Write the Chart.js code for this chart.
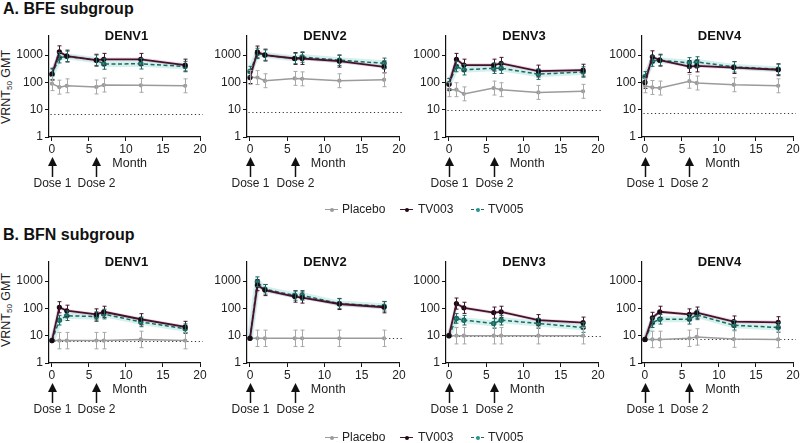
<!DOCTYPE html>
<html>
<head>
<meta charset="utf-8">
<script src="https://cdn.jsdelivr.net/npm/chart.js@4.4.0/dist/chart.umd.min.js"></script>
<style>
	body { margin: 0; width: 800px; height: 443px; overflow: hidden; background: #fff; position: relative;
		font-family: Arial, "Liberation Sans", sans-serif; color: #222; }
	canvas.panel { position: absolute; }
	.heading { position: absolute; left: 3px; font-weight: bold; font-size: 16px; line-height: 18px; color: #111; }
	.ylab { position: absolute; width: 80px; text-align: center; font-size: 12.5px; line-height: 14px;
		transform: translate(-50%, -50%) rotate(-90deg); white-space: nowrap; }
	.ylab sub { font-size: 8px; vertical-align: -2px; }
	.leg { position: absolute; font-size: 12px; line-height: 14px; white-space: nowrap; }
	.sym { position: absolute; height: 0; }
	.sym i { position: absolute; top: -2.5px; width: 4px; height: 4px; border-radius: 50%; }
</style>
</head>
<body>
<div class="heading" style="top:0px">A. BFE subgroup</div>
<div class="heading" style="top:226px">B. BFN subgroup</div>
<div class="ylab" style="left:8px;top:87px">VRNT<sub>50</sub> GMT</div>
<div class="ylab" style="left:8px;top:310px">VRNT<sub>50</sub> GMT</div>

<script>
	'use strict';

	var months = [0, 1, 2, 6, 7, 12, 18];
	var serotypes = ['DENV1', 'DENV2', 'DENV3', 'DENV4'];
	var yTicks = [1, 10, 100, 1000];
	var xTicks = [0, 5, 10, 15, 20];
	var seriesNames = ['Placebo', 'TV003', 'TV005'];

	// A. BFE subgroup, one row per serotype
	var bfePlacebo = [
		[90, 67, 75, 68, 80, 78, 75],
		[150, 150, 115, 140, 135, 115, 125],
		[54, 54, 38, 62, 54, 43, 47],
		[75, 65, 62, 110, 95, 82, 75]
	];
	var bfeTV003 = [
		[200, 1320, 920, 650, 700, 700, 430],
		[150, 1300, 1000, 750, 750, 600, 370],
		[85, 700, 430, 430, 500, 260, 280],
		[100, 870, 650, 380, 400, 350, 290]
	];
	var bfeTV005 = [
		[200, 800, 900, 650, 470, 480, 380],
		[250, 1150, 1000, 750, 850, 650, 500],
		[90, 380, 290, 330, 330, 200, 240],
		[160, 600, 650, 520, 560, 370, 300]
	];
	var bfeLod = [7, 8, 10, 7.5];
	var bfeErr = [1.8, 1.65, 1.55]; // placebo, TV003, TV005 (fold)

	// B. BFN subgroup
	var bfnPlacebo = [
		[6.6, 6.6, 6.6, 6.6, 6.6, 7.3, 6.6],
		[8, 8, 8, 8, 8, 8, 8],
		[10, 10, 10, 10, 10, 10, 10],
		[7.3, 7.3, 7.3, 8, 9, 7.5, 7.3]
	];
	var bfnTV003 = [
		[6.6, 110, 82, 60, 75, 40, 21],
		[8, 710, 470, 270, 250, 145, 110],
		[10, 150, 105, 70, 75, 37, 30],
		[7.3, 45, 75, 60, 70, 33, 31]
	];
	var bfnTV005 = [
		[6.6, 37, 54, 50, 62, 32, 18],
		[8, 950, 500, 300, 300, 150, 120],
		[10, 43, 37, 28, 37, 28, 20],
		[7.3, 30, 40, 40, 58, 24, 20]
	];
	var bfnLod = [6.6, 8, 10, 7.3];
	var bfnErr = [2.0, 1.6, 1.5];

	// layout (px)
	var axisLeft = [49, 247, 446, 642];
	var axisRight = [200, 399, 598, 793];
	var plotTop = [36, 262];
	var plotBottom = [137, 363];
	var legendTop = [202, 430];

	var colors = {
		placebo: '#9b9b9b',
		tv003: '#43122b',
		tv003Pt: '#1e0812',
		tv005: '#1d6961',
		tv005Pt: '#23988a'
	};

	function pts(values) {
		return values.map(function(v, i) { return { x: months[i], y: v }; });
	}

	// Error bars, LOD line, titles, month label and dose arrows
	var decorPlugin = {
		id: 'decor',
		beforeDatasetsDraw: function(chart) {
			var c = chart.ctx, xs = chart.scales.x, ys = chart.scales.y;
			var y = Math.round(ys.getPixelForValue(chart.options.lod)) + 0.5;
			c.save();
			c.strokeStyle = '#333';
			c.lineWidth = 1;
			c.setLineDash([1.2, 2.6]);
			c.beginPath();
			c.moveTo(xs.getPixelForValue(-0.2), y);
			c.lineTo(xs.getPixelForValue(20.4), y);
			c.stroke();
			c.restore();
		},
		afterDatasetsDraw: function(chart) {
			var c = chart.ctx, xs = chart.scales.x, ys = chart.scales.y;
			var lod = chart.options.lod;
			c.save();
			chart.data.datasets.forEach(function(ds) {
				if (!ds.errFactor) return;
				c.strokeStyle = ds.errColor;
				c.lineWidth = 1;
				ds.data.forEach(function(p) {
					// baseline samples sitting at the detection limit carry no bar
					if (p.x === 0 && p.y <= lod * 1.01) return;
					var x = Math.round(xs.getPixelForValue(p.x)) + 0.5;
					var y1 = ys.getPixelForValue(p.y * ds.errFactor);
					var y2 = ys.getPixelForValue(p.y / ds.errFactor);
					c.beginPath();
					c.moveTo(x, y1); c.lineTo(x, y2);
					c.moveTo(x - 2, y1); c.lineTo(x + 2, y1);
					c.moveTo(x - 2, y2); c.lineTo(x + 2, y2);
					c.stroke();
				});
			});
			c.restore();
		},
		afterDraw: function(chart) {
			var c = chart.ctx, xs = chart.scales.x, area = chart.chartArea;
			c.save();
			c.fillStyle = '#111';
			c.textAlign = 'center';
			c.textBaseline = 'middle';
			c.font = 'bold 13px Arial, "Liberation Sans", sans-serif';
			c.fillText(chart.options.panelTitle, (area.left + area.right) / 2 + 2, area.top);

			c.fillStyle = '#222';
			c.font = '12.5px Arial, "Liberation Sans", sans-serif';
			c.fillText('Month', xs.getPixelForValue(10.5), area.bottom + 27);

			c.font = '12px Arial, "Liberation Sans", sans-serif';
			[[0, 'Dose 1'], [6, 'Dose 2']].forEach(function(d) {
				var x = Math.round(xs.getPixelForValue(d[0])) + 0.5;
				var tip = area.bottom + 20;
				c.strokeStyle = '#111';
				c.lineWidth = 1.5;
				c.beginPath();
				c.moveTo(x, tip + 6); c.lineTo(x, area.bottom + 40);
				c.stroke();
				c.fillStyle = '#111';
				c.beginPath();
				c.moveTo(x, tip); c.lineTo(x - 4.5, tip + 9); c.lineTo(x + 4.5, tip + 9);
				c.closePath();
				c.fill();
				c.fillStyle = '#222';
				c.fillText(d[1], x, area.bottom + 47);
			});
			c.restore();
		}
	};

	function makePanel(row, col) {
		var placebo = row === 0 ? bfePlacebo : bfnPlacebo;
		var tv003 = row === 0 ? bfeTV003 : bfnTV003;
		var tv005 = row === 0 ? bfeTV005 : bfnTV005;
		var lod = row === 0 ? bfeLod : bfnLod;
		var err = row === 0 ? bfeErr : bfnErr;

		var padTop = 12, padRight = 10, padBottom = 42, yW = 40, xH = 18;
		var left = axisLeft[col] - yW;
		var top = plotTop[row] - padTop;
		var width = axisRight[col] - left + padRight;
		var height = plotBottom[row] - top + xH + padBottom;

		var canvas = document.createElement('canvas');
		canvas.className = 'panel';
		canvas.style.left = left + 'px';
		canvas.style.top = top + 'px';
		canvas.style.width = width + 'px';
		canvas.style.height = height + 'px';
		canvas.width = width;
		canvas.height = height;
		document.body.appendChild(canvas);

		var tickFont = { family: 'Arial, "Liberation Sans", sans-serif', size: 12 };

		new Chart(canvas, {
			type: 'line',
			data: {
				datasets: [
					{
						label: 'TV003',
						data: pts(tv003[col]),
						borderColor: colors.tv003,
						borderWidth: 1.8,
						pointRadius: 1.7,
						pointBackgroundColor: colors.tv003Pt,
						pointBorderColor: colors.tv003Pt,
						tension: 0,
						errFactor: err[1],
						errColor: colors.tv003
					},
					{
						label: 'TV005',
						data: pts(tv005[col]),
						borderColor: colors.tv005,
						borderWidth: 1.5,
						borderDash: [4, 2.5],
						pointRadius: 2,
						pointBackgroundColor: colors.tv005Pt,
						pointBorderColor: colors.tv005,
						tension: 0,
						errFactor: err[2],
						errColor: colors.tv005
					},
					{
						label: 'Placebo',
						data: pts(placebo[col]),
						borderColor: colors.placebo,
						borderWidth: 1.5,
						pointRadius: 1.4,
						pointBackgroundColor: colors.placebo,
						pointBorderColor: colors.placebo,
						tension: 0,
						errFactor: err[0],
						errColor: '#a8a8a8'
					},
					{
						label: 'TV003 band',
						data: pts(tv003[col]),
						borderColor: 'rgba(200, 130, 165, 0.3)',
						borderWidth: 3.5,
						pointRadius: 0,
						tension: 0
					},
					{
						label: 'TV005 band',
						data: pts(tv005[col]),
						borderColor: 'rgba(160, 225, 218, 0.45)',
						borderWidth: 6,
						pointRadius: 0,
						tension: 0
					}
				]
			},
			options: {
				responsive: false,
				animation: false,
				devicePixelRatio: 1,
				lod: lod[col],
				panelTitle: serotypes[col],
				layout: { padding: { top: padTop, right: padRight, bottom: padBottom, left: 0 } },
				plugins: {
					legend: { display: false },
					tooltip: { enabled: false }
				},
				scales: {
					x: {
						type: 'linear',
						min: -0.4,
						max: 20,
						afterBuildTicks: function(scale) {
							scale.ticks = xTicks.map(function(v) { return { value: v }; });
						},
						afterFit: function(scale) { scale.height = xH; },
						grid: { display: true, drawOnChartArea: false, tickLength: 4, tickColor: '#111', tickWidth: 1 },
						border: { display: true, color: '#111', width: 1.2 },
						ticks: { color: '#222', font: tickFont, padding: 1, maxRotation: 0 }
					},
					y: {
						type: 'logarithmic',
						min: 1,
						max: 5000,
						afterBuildTicks: function(scale) {
							scale.ticks = yTicks.map(function(v) { return { value: v }; });
						},
						afterFit: function(scale) { scale.width = yW; },
						grid: { display: true, drawOnChartArea: false, tickLength: 4, tickColor: '#111', tickWidth: 1 },
						border: { display: true, color: '#111', width: 1.2 },
						ticks: {
							color: '#222', font: tickFont, padding: 2,
							callback: function(v) { return String(v); }
						}
					}
				}
			},
			plugins: [decorPlugin]
		});
	}

	for (var r = 0; r < 2; r++) {
		for (var k = 0; k < 4; k++) {
			makePanel(r, k);
		}
	}

	// legends under each row
	var legendSym = [[325, 342], [400, 418], [471, 488]];
	var legendStyle = [
		{ line: colors.placebo, dash: 'solid', dot: colors.placebo },
		{ line: colors.tv003, dash: 'solid', dot: colors.tv003Pt },
		{ line: colors.tv005, dash: 'dashed', dot: colors.tv005Pt }
	];
	legendTop.forEach(function(t) {
		seriesNames.forEach(function(name, i) {
			var sym = document.createElement('div');
			sym.className = 'sym';
			sym.style.left = legendSym[i][0] + 'px';
			sym.style.top = (t + 7) + 'px';
			sym.style.width = '13px';
			sym.style.borderTop = '1.5px ' + legendStyle[i].dash + ' ' + legendStyle[i].line;
			var dot = document.createElement('i');
			dot.style.left = '4.5px';
			dot.style.background = legendStyle[i].dot;
			sym.appendChild(dot);
			document.body.appendChild(sym);

			var lab = document.createElement('div');
			lab.className = 'leg';
			lab.style.left = legendSym[i][1] + 'px';
			lab.style.top = t + 'px';
			lab.textContent = name;
			document.body.appendChild(lab);
		});
	});
</script>
</body>
</html>
